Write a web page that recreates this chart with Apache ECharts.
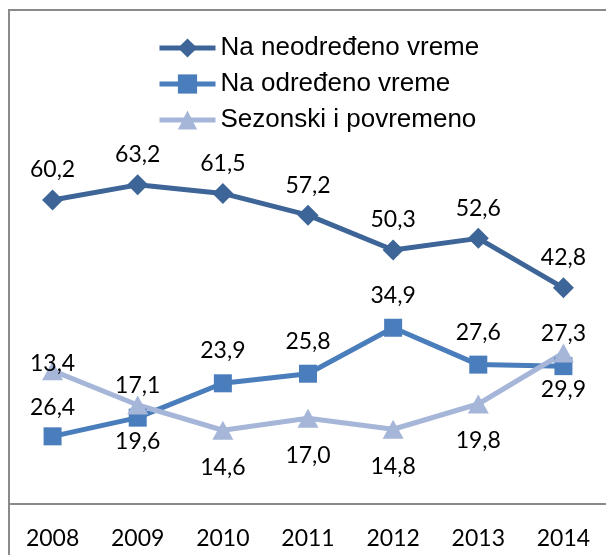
<!DOCTYPE html>
<html>
<head>
<meta charset="utf-8">
<script src="https://cdn.jsdelivr.net/npm/echarts@6/dist/echarts.min.js"></script>
<style>
  html, body { margin: 0; padding: 0; background: #fff; }
  #chart { width: 606px; height: 555px; }
</style>
</head>
<body>
<div id="chart"></div>
<script>
// podaci sa slike
var years = ['2008', '2009', '2010', '2011', '2012', '2013', '2014'];
var seriesNames = ['Na neodređeno vreme', 'Na određeno vreme', 'Sezonski i povremeno'];
var neodredjeno = [60.2, 63.2, 61.5, 57.2, 50.3, 52.6, 42.8];
var odredjeno = [13.4, 17.1, 23.9, 25.8, 34.9, 27.6, 27.3];
var sezonski = [26.4, 19.6, 14.6, 17.0, 14.8, 19.8, 29.9];

var colors = ['#3e6597', '#4a7dbb', '#a5b6d8'];
var symbols = ['diamond', 'rect', 'triangle'];
var symbolSizes = [[21, 21], [18, 18], [21, 19]];
var labelPos = ['top', 'top', 'bottom'];
var labelDist = [8, 12, 16];

function fmt(p) {
  return p.value.toFixed(1).replace('.', ',');
}

function makeSeries(i, values) {
  var data = values.map(function (v, j) {
    // 13,4 label was pushed up in the original
    if (i === 1 && j === 0) {
      return { value: v, label: { offset: [0, -40] } };
    }
    return v;
  });
  return {
    name: seriesNames[i],
    type: 'line',
    data: data,
    symbol: symbols[i],
    symbolSize: symbolSizes[i],
    showAllSymbol: true,
    lineStyle: { color: colors[i], width: 5 },
    itemStyle: { color: colors[i] },
    label: {
      show: true,
      position: labelPos[i],
      distance: labelDist[i],
      formatter: fmt,
      fontFamily: 'Lato',
      fontSize: 23,
      color: '#000'
    },
    emphasis: { disabled: true },
    animation: false
  };
}

var chart = echarts.init(document.getElementById('chart'));
chart.setOption({
  backgroundColor: '#fff',
  animation: false,
  graphic: [{
    type: 'rect',
    shape: { x: 9, y: 10, width: 700, height: 700 },
    style: { fill: 'none', stroke: '#8a8a8a', lineWidth: 2 },
    silent: true
  }],
  legend: {
    orient: 'vertical',
    left: 152,
    top: 30,
    itemWidth: 56,
    itemHeight: 24,
    itemGap: 10,
    itemTextGap: 4,
    lineStyle: { width: 5 },
    textStyle: { fontFamily: 'Liberation Sans', fontSize: 26, color: '#000', lineHeight: 26 },
    data: seriesNames
  },
  grid: { left: 10, right: -5, top: 100, bottom: 51 },
  xAxis: {
    type: 'category',
    data: years,
    boundaryGap: true,
    axisLine: { lineStyle: { color: '#8a8a8a', width: 2 } },
    axisTick: { show: false },
    axisLabel: { fontFamily: 'Lato', fontSize: 23, color: '#000', margin: 23 }
  },
  yAxis: {
    type: 'value',
    min: 0,
    max: 80,
    show: false,
    splitLine: { show: false }
  },
  series: [
    makeSeries(0, neodredjeno),
    makeSeries(1, odredjeno),
    makeSeries(2, sezonski)
  ]
});
</script>
</body>
</html>
